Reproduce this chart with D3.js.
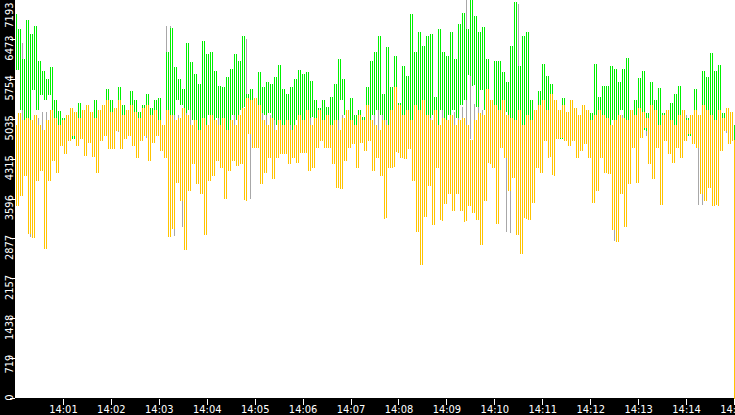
<!DOCTYPE html>
<html><head><meta charset="utf-8">
<script src="https://cdn.jsdelivr.net/npm/d3@7"></script>
<style>html,body{margin:0;padding:0;background:#000;overflow:hidden}
text{font-family:"DejaVu Sans Condensed","DejaVu Sans",sans-serif;font-stretch:condensed;font-size:11px;fill:#fff}</style>
</head><body><svg id="c" width="735" height="415"></svg>
<script>
const startLabel = "14:00";
const endLabel = "14:15";
const stepSeconds = 2.5;
const grayStepSeconds = 5;
const xTickLabels = ["14:01","14:02","14:03","14:04","14:05","14:06","14:07","14:08","14:09","14:10","14:11","14:12","14:13","14:14","14:15"];
const yTickValues = [0,719,1438,2157,2877,3596,4315,5035,5754,6473,7193];

const greenSeries = [
6921,5925,6649,5200,6106,4566,6812,4656,6559,5562,6704,5200,6070,5472,5888,5381,5743,5472,5961,4928,
5381,4747,5182,4747,5055,4656,5073,4837,5200,4692,5109,4928,5327,4747,5164,4874,5236,4656,5109,4928,
5381,4801,5200,4837,5290,5019,5562,4874,5381,4747,5200,5055,5598,4837,5290,4747,5200,5019,5526,4874,
5381,4692,5164,4837,5290,4928,5472,4801,5236,4874,5381,4928,5417,4656,4928,4747,6233,4837,6667,5109,
5961,5381,5743,5290,5562,5145,6396,5200,6051,5019,5834,4475,5653,4837,6432,4874,6196,5109,6233,5019,
5888,5055,5617,4928,5598,4783,5780,4837,5925,5109,6196,5019,6070,5200,6523,5254,5472,5145,5562,5109,
5381,5019,5870,5145,5598,5109,5689,5145,5653,5019,5780,4928,5997,4837,5562,4656,5472,4928,5598,4837,
5743,5019,5906,4928,5834,5019,5870,5055,5707,5073,5381,4747,5236,4747,5381,4837,5254,4747,5435,4928,
5653,5019,6106,5381,5743,5109,5164,4656,5417,4747,5109,4656,5200,4692,5073,4656,5598,4837,6070,5109,
6233,5200,6523,5109,5472,5019,6323,4928,5598,4837,6160,5019,5327,4837,5979,4874,5798,4837,6921,4928,
6233,4837,6595,5019,6341,4928,6523,5055,6559,5109,5435,4928,6649,5200,6233,5019,6160,5109,6595,5200,
6106,5055,6740,5290,6939,5381,6649,5834,7193,5653,6885,5254,6595,5562,6686,5200,6106,5019,5381,4928,
6070,5109,6070,5055,5870,5164,5689,5019,6341,4837,7139,4656,5979,4239,6523,4475,6595,4294,5381,4837,
5145,4747,5526,4837,6015,4928,5798,4837,5653,4747,5055,4837,5019,4692,5417,4747,5109,4837,5073,4747,
5200,4837,4892,4656,4892,4747,4964,4837,5145,4747,6015,4874,5435,4928,5617,4837,5617,4837,5979,5019,
5925,5019,5689,5200,5925,4928,6124,4837,4892,4656,5381,4837,5762,4928,5888,4837,5145,4747,5689,4837,
5381,4874,5580,4747,5145,4692,5019,4837,5327,4747,5472,4837,5617,4747,4801,4656,5055,4747,5019,4692,
5562,4837,5019,4656,5888,4566,5780,4475,6214,4566,5888,4656,5997,4747,5145,4837,5145,4928,5073,4928,
2427];

const yellowSeries = [
4928,3478,5145,3660,5019,4022,5055,2989,5019,2917,5109,3931,4928,4113,4837,2717,5019,3931,5200,4294,
5055,4076,4928,4566,5019,4421,5109,4656,5236,4747,5164,4566,5055,4692,5200,4384,5290,4620,5164,4366,
5055,4076,5200,4656,5290,4747,5381,4511,5164,4511,5236,4837,5381,4511,5109,4692,5200,4747,5290,4566,
5164,4348,5055,4656,5236,4747,5290,4294,5109,4620,5200,4747,5019,4475,4928,4348,5200,2935,5109,3080,
5019,3895,5055,3569,5236,2699,5109,3750,4928,4239,5019,3877,4837,3696,5055,2971,4928,3931,5109,4022,
5019,4294,4928,4167,5055,3605,4837,4113,5019,4294,4928,4203,5109,4239,5236,3587,5417,4783,5381,4529,
5417,4529,5290,3877,5019,4076,4928,4348,5055,3968,4837,4348,5019,4421,4928,4421,5019,4239,4837,4348,
4928,4258,5109,4439,5019,4439,5200,4113,4928,4167,5055,4529,5200,4656,5019,4529,5109,4529,4928,4239,
5019,3805,4837,3786,5055,4294,5200,4529,5019,4602,4928,4167,5109,4620,5019,4475,5290,4656,5019,4113,
4928,4348,4837,4022,5019,3261,4928,4167,5200,4167,5598,4439,5290,4348,5109,4330,5200,4511,5019,3931,
5290,3025,5200,2427,5381,3297,5109,3841,5019,3152,5200,4167,4928,3225,5055,3515,5019,3696,5109,3388,
4928,3696,5019,3388,5055,3207,4928,3478,4656,3352,5019,3243,5145,2790,5109,3569,5562,4239,5381,4167,
5290,3170,5200,4529,5381,4348,5109,3750,5055,3986,5019,2971,5200,2627,4928,3261,5109,3243,5019,3533,
5200,4167,5290,4076,5381,4656,5200,4348,5472,4022,5381,4692,5200,4711,5290,4656,5164,4566,5381,4656,
5236,4348,5109,4475,5290,4602,5200,4348,5019,3533,5109,3750,5200,4348,5109,4076,5055,4058,4928,3062,
5019,2844,5109,3696,5055,3116,5019,3877,5200,4529,5109,3895,5236,4711,5164,4892,5055,4239,5290,3968,
5200,4529,4928,3496,5109,4656,5200,4421,5019,4258,4928,4529,5109,4348,5200,4656,5019,4783,5109,4602,
5200,4529,5109,3696,5290,3569,5200,3805,5109,3478,5019,3496,5200,4475,5055,4837,5236,4602,5164,4656,
0];

const graySeries = [
5100,4800,6400,4750,2935,5050,4700,5150,4650,5100,
4800,5050,4750,5100,4800,5000,4700,5100,4800,5050,
4750,5100,4800,5050,4700,5150,4800,5000,4750,5100,
4800,5050,4700,5100,4800,5000,4750,4900,6700,2935,
5100,4700,3100,5200,4800,5100,4600,5150,4750,5200,
4800,5100,4700,5150,4750,5200,4800,6470,3600,5100,
4800,5150,4750,5100,4700,5100,4800,5050,4750,5100,
4800,5100,4750,5100,4800,5000,4750,5050,4800,5000,
4750,5100,4800,5000,4700,5050,4750,5000,4800,5100,
4750,5200,4700,5100,4800,5150,4750,5100,4700,5200,
4600,5200,4700,5150,4650,5100,4700,5200,4600,5150,
4700,5250,4600,7193,4700,5300,4650,5200,4700,5100,
4650,5200,4700,3000,5200,7100,4500,5300,4700,5100,
4750,5150,4800,5050,4750,5100,4800,5050,4750,5000,
4800,5050,4750,5100,4800,5150,4700,5100,4750,5100,
2850,5100,4700,5150,4750,5100,4800,5050,4750,5100,
4800,5050,4750,5000,4800,5050,4750,5100,4800,5050,
4750,3500,5100,4700,5150,4750,5100,4800,5050,4800,
2600];

const W = 735, H = 415;
const svg = d3.select("#c");
const parseHM = d3.timeParse("%H:%M");
const t0 = parseHM(startLabel), t1 = parseHM(endLabel);
const x = d3.scaleTime().domain([t0, t1]).range([15, 734]);
const y = d3.scaleLinear().domain([0, d3.max(yTickValues)]).range([398, -1]);

svg.append("rect").attr("width", W).attr("height", H).attr("fill", "#000");
svg.append("rect").attr("x", 15).attr("y", 0).attr("width", W - 15).attr("height", 398).attr("fill", "#fff");

// each sample is joined to the previous one by a 1px vertical stroke at its own time
const toSegs = (arr, step) => arr.slice(1).map((v, i) => ({
  t: new Date(+t0 + (i + 1) * step * 1000), a: arr[i], b: v
}));

const plot = svg.append("g").attr("shape-rendering", "crispEdges");
[[graySeries, grayStepSeconds, "#a8a8a8"], [greenSeries, stepSeconds, "#00f000"], [yellowSeries, stepSeconds, "#ffc400"]]
  .forEach(([arr, step, col]) => {
    plot.append("g").attr("fill", col).selectAll("rect").data(toSegs(arr, step)).join("rect")
      .attr("x", d => Math.min(Math.floor(x(d.t)), 734))
      .attr("width", 1)
      .attr("y", d => Math.max(0, Math.round(Math.min(y(d.a), y(d.b)))))
      .attr("height", d => Math.max(1, Math.round(Math.abs(y(d.a) - y(d.b))) + 1));
  });

// Y axis
const yAx = svg.append("g").attr("transform", "translate(15,0)")
  .call(d3.axisLeft(y).tickValues(yTickValues).tickSize(5).tickFormat(d3.format("d")));
yAx.select(".domain").remove();
yAx.selectAll(".tick line").attr("stroke", "#fff").attr("shape-rendering", "crispEdges");
yAx.selectAll(".tick text")
  .attr("x", 0).attr("y", 0).attr("dy", 0)
  .attr("text-anchor", "end")
  .attr("transform", d => `translate(-2.5,${Math.max(y(d) - 4, 2) - y(d)}) rotate(-90)`)
  .style("font-size", "11px").style("fill", "#fff");

// X axis
const xAx = svg.append("g").attr("transform", "translate(0,399)")
  .call(d3.axisBottom(x).tickValues(xTickLabels.map(parseHM)).tickSize(6).tickFormat(d3.timeFormat("%H:%M")));
xAx.select(".domain").remove();
xAx.selectAll(".tick line").attr("stroke", "#fff").attr("shape-rendering", "crispEdges");
xAx.selectAll(".tick text").attr("y", 14).attr("dy", 0)
  .style("font-size", "11px").style("fill", "#fff");
</script>
</body></html>
